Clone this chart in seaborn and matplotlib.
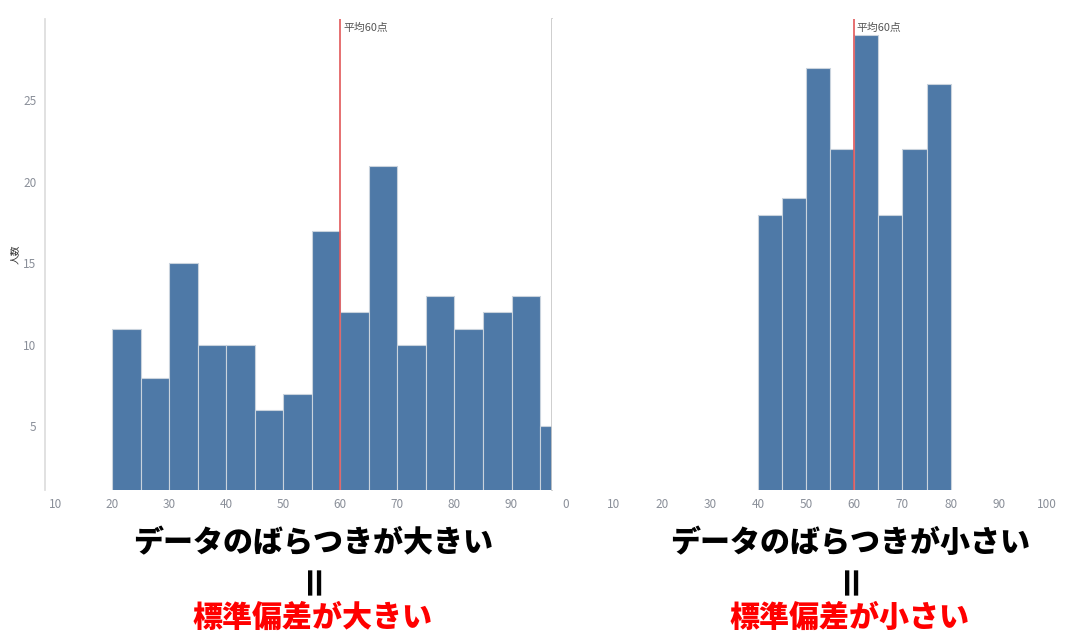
import numpy as np
import pandas as pd
import matplotlib
matplotlib.use("Agg")
import matplotlib.pyplot as plt
import seaborn as sns

# score bins (left edge of each 5-point bin) and head counts
wide_bins = [20, 25, 30, 35, 40, 45, 50, 55, 60, 65, 70, 75, 80, 85, 90, 95]
wide_counts = [11, 8, 15, 10, 10, 6, 7, 17, 12, 21, 10, 13, 11, 12, 13, 5]

narrow_bins = [40, 45, 50, 55, 60, 65, 70, 75]
narrow_counts = [18, 19, 27, 22, 29, 18, 22, 26]

mean_score = 60
mean_label = "平均60点"
y_label = "人数"
left_ticks = [10, 20, 30, 40, 50, 60, 70, 80, 90]
right_ticks = [0, 10, 20, 30, 40, 50, 60, 70, 80, 90, 100]
y_ticks = [5, 10, 15, 20, 25]
captions_left = ["データのばらつきが大きい", "標準偏差が大きい"]
captions_right = ["データのばらつきが小さい", "標準偏差が小さい"]

sns.set_theme(style="white")
plt.rcParams["font.family"] = ["Noto Sans CJK JP", "DejaVu Sans"]

bar_color = "#4e79a7"
edge_color = "#c9d3dd"
tick_color = "#8a8f99"

fig = plt.figure(figsize=(10.77, 6.34), dpi=100)
ax1 = fig.add_axes([45 / 1077, 144 / 634, 507 / 1077, 471 / 634])
ax2 = fig.add_axes([552 / 1077, 144 / 634, 513 / 1077, 471 / 634])

wide = pd.DataFrame({"score": wide_bins, "n": wide_counts})
narrow = pd.DataFrame({"score": narrow_bins, "n": narrow_counts})

sns.histplot(data=wide, x="score", weights="n", binwidth=5, binrange=(20, 100),
             color=bar_color, alpha=1, edgecolor=edge_color, linewidth=0.8, ax=ax1)
sns.histplot(data=narrow, x="score", weights="n", binwidth=5, binrange=(40, 80),
             color=bar_color, alpha=1, edgecolor=edge_color, linewidth=0.8, ax=ax2)

ax1.set_xlim(8.2, 97.1)
ax2.set_xlim(-2.9, 103.8)
for ax in (ax1, ax2):
    ax.set_ylim(1.1, 30)
    ax.axvline(mean_score, color="#e15759", lw=1.2)
    ax.text(mean_score + 0.5, 29.45, mean_label, fontsize=7.8, color="#555555",
            ha="left", va="center")
    ax.set_xlabel("")
    ax.tick_params(axis="x", colors=tick_color, labelsize=8.5, length=0, pad=6)
    for s in ax.spines.values():
        s.set_visible(False)

ax1.set_xticks(left_ticks)
ax2.set_xticks(right_ticks)
ax1.set_yticks(y_ticks)
ax1.tick_params(axis="y", colors=tick_color, labelsize=8.5, length=0, pad=6)
ax1.set_ylabel(y_label, fontsize=7, color="#333333", labelpad=3)
ax1.spines["left"].set_visible(True)
ax1.spines["left"].set_color("#dddddd")
ax1.spines["right"].set_visible(True)
ax1.spines["right"].set_color("#c8c8c8")
ax2.set_yticks([])
ax2.set_ylabel("")

ys = [1 - 542 / 634, 1 - 577 / 634, 1 - 617 / 634]
for cx, caps in ((313 / 1077, captions_left), (850 / 1077, captions_right)):
    fig.text(cx, ys[0], caps[0], ha="center", va="center", fontsize=21.6,
             fontweight="black", color="black")
    fig.text(cx, ys[1], "＝", ha="center", va="center", fontsize=26,
             fontweight="black", color="black", rotation=90)
    fig.text(cx, ys[2], caps[1], ha="center", va="center", fontsize=21.6,
             fontweight="black", color="#ff0000")

fig.savefig("out.png", dpi=100)
